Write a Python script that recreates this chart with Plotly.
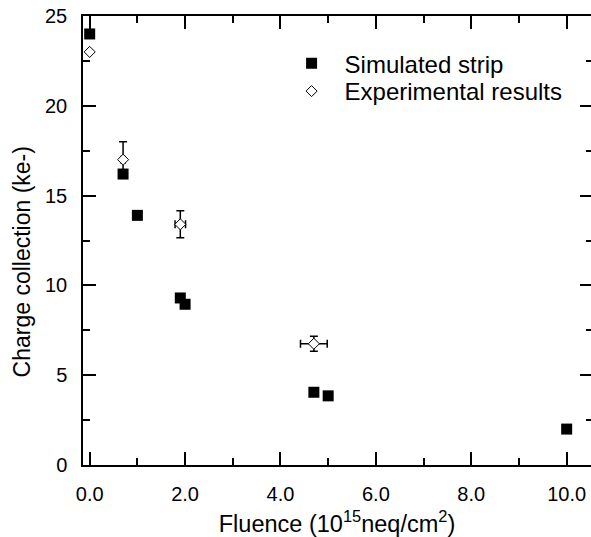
import plotly.graph_objects as go

# Simulated strip
sim_fluence = [0.0, 0.7, 1.0, 1.9, 2.0, 4.7, 5.0, 10.0]
sim_charge = [24.0, 16.2, 13.9, 9.3, 8.95, 4.05, 3.85, 2.0]

# Experimental results
exp_fluence = [0.0, 0.7, 1.9, 4.7]
exp_charge = [23.0, 17.0, 13.4, 6.75]
exp_err_y = [None, 1.0, 0.75, 0.42]
exp_err_x = [None, 0.04, 0.11, 0.28]

FONT = "Liberation Sans, Arial, sans-serif"

fig = go.Figure()

fig.add_trace(go.Scatter(
    x=exp_fluence, y=exp_charge, mode="markers", name="Experimental results",
    legend="legend2",
    marker=dict(symbol="diamond", size=8.5, color="white",
                line=dict(color="black", width=1)),
    error_y=dict(type="data", array=exp_err_y, visible=True,
                 color="black", thickness=1.5, width=4),
    error_x=dict(type="data", array=exp_err_x, visible=True,
                 color="black", thickness=1.5, width=4),
))

fig.add_trace(go.Scatter(
    x=sim_fluence, y=sim_charge, mode="markers", name="Simulated strip",
    legend="legend",
    marker=dict(symbol="square", size=11, color="black",
                line=dict(color="black", width=0)),
))

fig.add_trace(go.Scatter(x=[None], y=[None], yaxis="y2", showlegend=False,
                         hoverinfo="skip", mode="markers"))

legend_common = dict(xanchor="left", yanchor="top", bgcolor="rgba(0,0,0,0)",
                     font=dict(size=24, family=FONT), itemwidth=56,
                     itemsizing="trace")

fig.update_layout(
    width=591, height=537,
    margin=dict(l=83, r=0, t=16, b=72, autoexpand=False),
    paper_bgcolor="white", plot_bgcolor="white",
    font=dict(family=FONT, color="black", size=20),
    showlegend=True,
    legend=dict(x=0.385, y=0.944, **legend_common),
    legend2=dict(x=0.385, y=0.882, **legend_common),
    xaxis=dict(
        range=[-0.14, 10.51], tick0=0, dtick=2, tickformat=".1f",
        showline=True, linecolor="black", linewidth=1.5, mirror="ticks",
        ticks="inside", ticklen=13, tickwidth=1.5, tickcolor="black",
        minor=dict(ticks="inside", ticklen=7, tickwidth=1.5, dtick=1, tickcolor="black"),
        showgrid=False, zeroline=False, automargin=False,
        tickfont=dict(size=20), ticklabelstandoff=10, ticklabeloverflow="allow",
        title=dict(text="Fluence (10<sup>15</sup>neq/cm<sup>2</sup>)",
                   font=dict(size=23.5), standoff=12),
    ),
    yaxis=dict(
        range=[0, 25], tick0=0, dtick=5,
        showline=True, linecolor="black", linewidth=1.5, mirror=False,
        ticks="inside", ticklen=13, tickwidth=1.5, tickcolor="black",
        minor=dict(ticks="inside", ticklen=7, tickwidth=1.5, dtick=2.5, tickcolor="black"),
        showgrid=False, zeroline=False, automargin=False,
        tickfont=dict(size=20), ticklabelstandoff=10, ticklabeloverflow="allow",
    ),
    yaxis2=dict(
        overlaying="y", side="right", range=[0, 25], tick0=0, dtick=5,
        showline=False, showticklabels=False, showgrid=False, zeroline=False,
        ticks="inside", ticklen=11, tickwidth=1.5, tickcolor="black",
        minor=dict(ticks="inside", ticklen=5, tickwidth=1.5, dtick=2.5, tickcolor="black"),
    ),
    annotations=[dict(
        text="Charge collection (ke-)", textangle=-90,
        xref="paper", yref="paper", x=-0.1193, y=0.452,
        xanchor="center", yanchor="middle", showarrow=False,
        font=dict(size=23, family=FONT, color="black"),
    )],
)

fig.write_html("out.html", config={"displayModeBar": False},
               post_script="document.body.style.margin='0';document.body.style.padding='0';")
